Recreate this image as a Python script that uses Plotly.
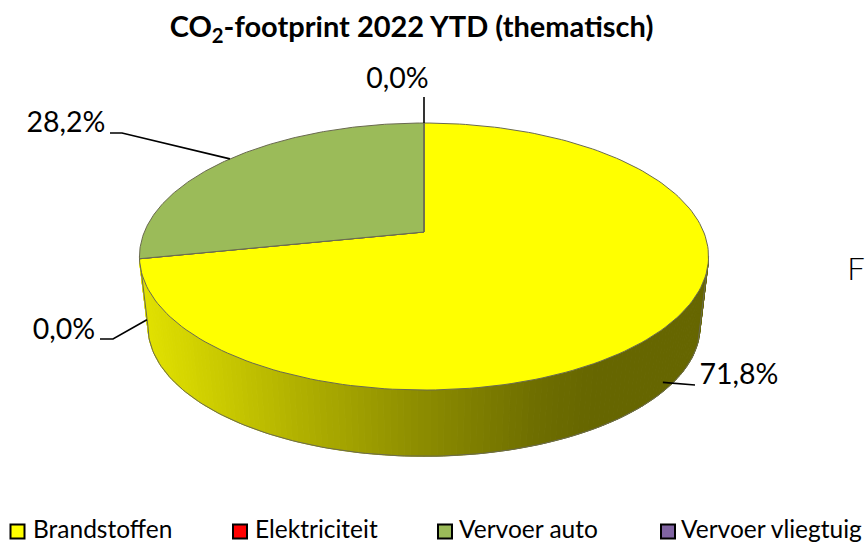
import numpy as np
import plotly.graph_objects as go

# data
categories = ["Brandstoffen", "Elektriciteit", "Vervoer auto", "Vervoer vliegtuig"]
shares = [71.8, 0.0, 28.2, 0.0]
colors = ["#FFFF00", "#FF0000", "#9BBB59", "#8064A2"]
title = "CO<sub>2</sub>-footprint 2022 YTD (thematisch)"

# pie geometry, in pixels of the 865x542 canvas
CX, CY_TOP, CY_BOTTOM = 424, 232, 303
RX, RY, PERSP = 279.7, 129.0, 0.1837
BOTTOM_SCALE = 0.97
WALL_FROM, WALL_TO = 100.6, 259.4
EDGE = "#6a6a50"

# wall shading: x position -> grey level of the yellow
SHADE_X = [140, 200, 300, 424, 540, 600, 710]
SHADE_V = [226, 208, 176, 140, 110, 102, 102]

# label position, elbow of the leader, attach point on the wall (0 = top rim, 1 = foot)
LABEL_POS = [(739, 377), (64, 332), (66, 125), (397.5, 81)]
LABEL_ELBOW = [None, (113, 339), (122, 133), None]
LABEL_END = [(695, 385), (100, 339), (110, 133), (424, 97)]
LABEL_WALL = [0.85, 0.87, 0.0, 0.0]

LEGEND_X = [17.5, 240, 445, 668]
LEGEND_TEXT_X = [33, 255, 459, 681]
LEGEND_Y = 531.5


def rim(deg, cy, scale=1.0):
    t = np.radians(deg)
    u, v = np.sin(t), np.cos(t)
    w = 1 + PERSP * v
    return CX + RX * scale * u / w, cy - RY * scale * v / w


def text_trace(x, y, txt, size, color="black", weight=400, position="middle center"):
    return go.Scatter(x=[x], y=[y], mode="text", text=[txt], textposition=position,
                      textfont=dict(family="Lato", size=size, color=color, weight=weight),
                      cliponaxis=False, showlegend=False, hoverinfo="skip")


fig = go.Figure()

# side wall, one narrow strip per step of angle
steps = np.linspace(WALL_FROM, WALL_TO, 141)
for a0, a1 in zip(steps[:-1], steps[1:]):
    x0, y0 = rim(a0, CY_TOP)
    x1, y1 = rim(a1, CY_TOP)
    x2, y2 = rim(a1, CY_BOTTOM, BOTTOM_SCALE)
    x3, y3 = rim(a0, CY_BOTTOM, BOTTOM_SCALE)
    shade = int(np.interp((x0 + x1) / 2, SHADE_X, SHADE_V))
    col = f"rgb({shade},{shade},0)"
    fig.add_trace(go.Scatter(x=[x0, x1, x2, x3, x0], y=[y0, y1, y2, y3, y0], mode="lines",
                             fill="toself", fillcolor=col, line=dict(color=col, width=1),
                             showlegend=False, hoverinfo="skip"))

# outline of the wall
fx, fy = rim(steps, CY_BOTTOM, BOTTOM_SCALE)
tx0, ty0 = rim(WALL_FROM, CY_TOP)
tx1, ty1 = rim(WALL_TO, CY_TOP)
fig.add_trace(go.Scatter(x=np.r_[tx0, fx, tx1], y=np.r_[ty0, fy, ty1], mode="lines",
                         line=dict(color=EDGE, width=1), showlegend=False, hoverinfo="skip"))

# top face, slices run clockwise from 12 o'clock
start = 0.0
for name, share, col in zip(categories, shares, colors):
    end = start + share / sum(shares) * 360
    arc = np.linspace(start, end, 181)
    ax, ay = rim(arc, CY_TOP)
    fig.add_trace(go.Scatter(x=np.r_[CX, ax, CX], y=np.r_[CY_TOP, ay, CY_TOP], mode="lines",
                             fill="toself", fillcolor=col, line=dict(color=EDGE, width=1),
                             name=name, showlegend=False,
                             hovertemplate=f"{name}: {share:.1f}%<extra></extra>"))
    start = end

# data labels with leader lines
start = 0.0
for i, share in enumerate(shares):
    mid = start + share / sum(shares) * 180
    start += share / sum(shares) * 360
    x_end, y_end = rim(mid, CY_TOP)
    if LABEL_WALL[i]:
        xb, yb = rim(mid, CY_BOTTOM, BOTTOM_SCALE)
        x_end += (xb - x_end) * LABEL_WALL[i]
        y_end += (yb - y_end) * LABEL_WALL[i]
    pts = [(x_end, y_end)]
    if LABEL_ELBOW[i]:
        pts.append(LABEL_ELBOW[i])
    pts.append(LABEL_END[i])
    fig.add_trace(go.Scatter(x=[p[0] for p in pts], y=[p[1] for p in pts], mode="lines",
                             line=dict(color="black", width=1.6), showlegend=False, hoverinfo="skip"))
    label = f"{share:.1f}%".replace(".", ",")
    fig.add_trace(text_trace(LABEL_POS[i][0], LABEL_POS[i][1], label, 28.5))

# legend row
for name, col, lx, tx in zip(categories, colors, LEGEND_X, LEGEND_TEXT_X):
    fig.add_trace(go.Scatter(x=[lx], y=[LEGEND_Y], mode="markers", name=name,
                             marker=dict(symbol="square", size=14, color=col,
                                         line=dict(color="black", width=2)),
                             cliponaxis=False, showlegend=False, hoverinfo="skip"))
    fig.add_trace(text_trace(tx, LEGEND_Y + 0.5, name, 24.5, position="middle right"))

# stray letter at the right of the picture
fig.add_trace(text_trace(856, 272, "F", 31, color="black", weight=300))

fig.update_layout(
    width=865, height=542, margin=dict(l=0, r=0, t=0, b=0),
    paper_bgcolor="white", plot_bgcolor="white", showlegend=False,
    title=dict(text=title, x=411.5 / 865, xanchor="center", y=1 - 26.5 / 542, yanchor="middle",
               font=dict(family="Lato", size=29, color="black", weight=700)),
    xaxis=dict(range=[0, 865], visible=False, fixedrange=True),
    yaxis=dict(range=[542, 0], visible=False, fixedrange=True),
)

fig.write_html("out.html", config=dict(displayModeBar=False),
               post_script="document.body.style.margin='0';")
